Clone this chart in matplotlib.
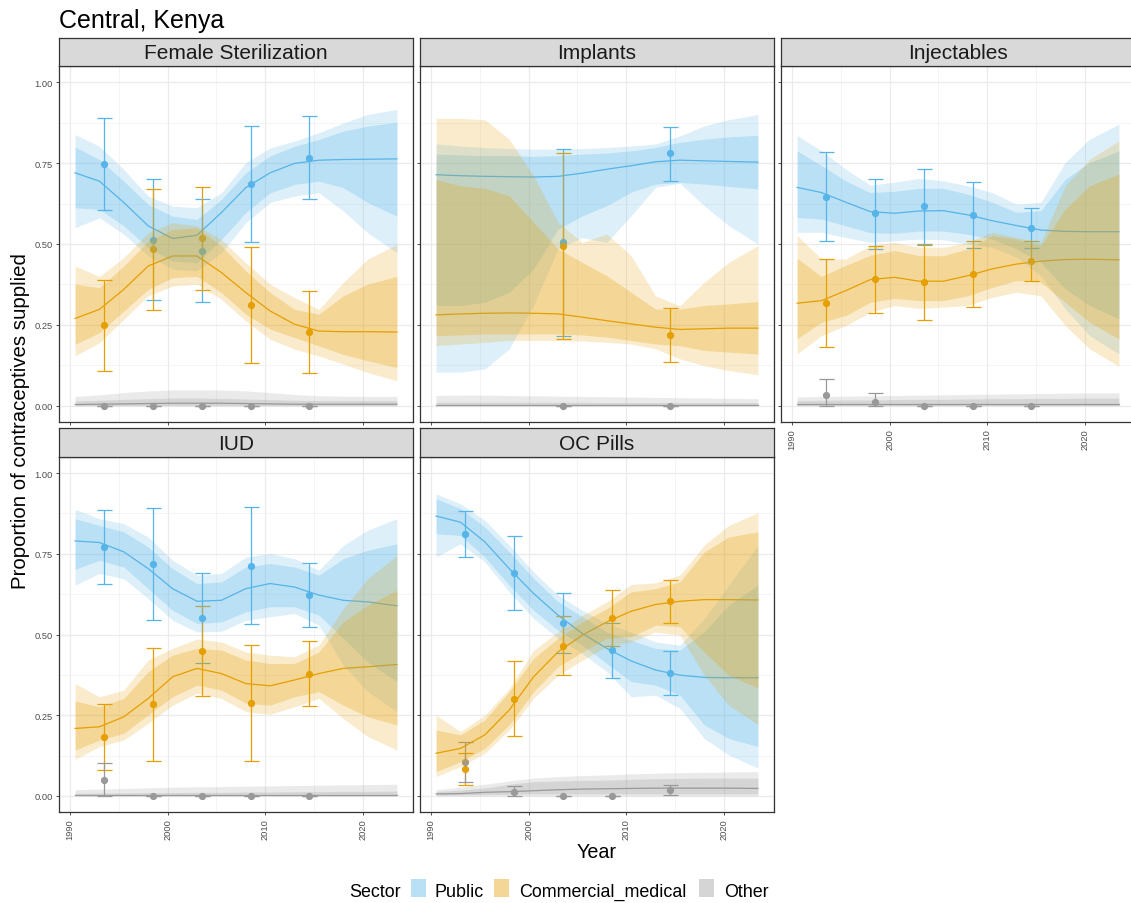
import matplotlib
matplotlib.use("Agg")
import matplotlib.pyplot as plt
from matplotlib.patches import Rectangle
import numpy as np

plt.rcParams['font.family'] = ['Liberation Sans', 'DejaVu Sans']

# ---------------- data ----------------
GRID = [1990.5, 1993, 1995.5, 1998, 2000.5, 2003, 2005.5, 2008, 2010.5, 2013, 2015.5, 2018, 2020.5, 2023.5]
SECTORS = ['Public', 'Commercial_medical', 'Other']
PANELS = ['Female Sterilization', 'Implants', 'Injectables', 'IUD', 'OC Pills']

# Female Sterilization
fs_pub_med = [0.72, 0.694, 0.628, 0.556, 0.517, 0.527, 0.597, 0.674, 0.72, 0.749, 0.759, 0.761, 0.762, 0.763]
fs_pub_lo_in = [0.612, 0.607, 0.556, 0.489, 0.448, 0.442, 0.514, 0.597, 0.658, 0.684, 0.694, 0.674, 0.628, 0.586]
fs_pub_hi_in = [0.80, 0.761, 0.694, 0.622, 0.586, 0.576, 0.638, 0.72, 0.772, 0.802, 0.823, 0.849, 0.864, 0.877]
fs_pub_lo_out = [0.55, 0.581, 0.53, 0.463, 0.422, 0.417, 0.473, 0.566, 0.628, 0.648, 0.658, 0.602, 0.535, 0.473]
fs_pub_hi_out = [0.838, 0.802, 0.73, 0.648, 0.617, 0.612, 0.658, 0.751, 0.797, 0.818, 0.844, 0.874, 0.90, 0.916]
fs_com_med = [0.27, 0.298, 0.36, 0.432, 0.463, 0.463, 0.412, 0.35, 0.293, 0.252, 0.231, 0.229, 0.229, 0.228]
fs_com_lo_in = [0.19, 0.226, 0.293, 0.36, 0.396, 0.40, 0.35, 0.283, 0.237, 0.211, 0.185, 0.159, 0.139, 0.118]
fs_com_hi_in = [0.376, 0.365, 0.432, 0.509, 0.545, 0.55, 0.494, 0.417, 0.35, 0.298, 0.283, 0.34, 0.376, 0.40]
fs_com_lo_out = [0.154, 0.195, 0.267, 0.34, 0.37, 0.376, 0.329, 0.262, 0.206, 0.175, 0.154, 0.129, 0.103, 0.077]
fs_com_hi_out = [0.432, 0.40, 0.458, 0.535, 0.566, 0.556, 0.514, 0.442, 0.376, 0.334, 0.298, 0.381, 0.453, 0.499]
fs_oth_med = [0.004, 0.005, 0.006, 0.007, 0.008, 0.008, 0.008, 0.007, 0.006, 0.005, 0.005, 0.005, 0.005, 0.005]
fs_oth_lo_in = [0.001, 0.001, 0.001, 0.001, 0.001, 0.001, 0.001, 0.001, 0.001, 0.001, 0.001, 0.001, 0.001, 0.001]
fs_oth_hi_in = [0.015, 0.017, 0.02, 0.022, 0.024, 0.024, 0.023, 0.021, 0.019, 0.017, 0.016, 0.016, 0.016, 0.016]
fs_oth_lo_out = [0.0, 0.0, 0.0, 0.0, 0.0, 0.0, 0.0, 0.0, 0.0, 0.0, 0.0, 0.0, 0.0, 0.0]
fs_oth_hi_out = [0.029, 0.034, 0.041, 0.046, 0.049, 0.049, 0.049, 0.046, 0.041, 0.035, 0.031, 0.03, 0.029, 0.029]
fs_years = [1993.5, 1998.5, 2003.5, 2008.5, 2014.5]
fs_pub_pt = [0.748, 0.513, 0.478, 0.685, 0.767]
fs_pub_pt_lo = [0.606, 0.326, 0.32, 0.506, 0.64]
fs_pub_pt_hi = [0.889, 0.70, 0.638, 0.864, 0.894]
fs_com_pt = [0.249, 0.484, 0.517, 0.311, 0.229]
fs_com_pt_lo = [0.108, 0.296, 0.359, 0.131, 0.102]
fs_com_pt_hi = [0.39, 0.67, 0.675, 0.49, 0.356]
fs_oth_pt = [0.0, 0.0, 0.0, 0.0, 0.0]
fs_oth_pt_lo = [0.0, 0.0, 0.0, 0.0, 0.0]
fs_oth_pt_hi = [0.0, 0.0, 0.0, 0.0, 0.0]

# Implants
im_pub_med = [0.714, 0.711, 0.709, 0.708, 0.707, 0.709, 0.719, 0.731, 0.742, 0.754, 0.759, 0.757, 0.755, 0.753]
im_pub_lo_in = [0.31, 0.31, 0.32, 0.351, 0.423, 0.546, 0.587, 0.618, 0.66, 0.685, 0.69, 0.685, 0.678, 0.67]
im_pub_hi_in = [0.778, 0.775, 0.773, 0.773, 0.771, 0.773, 0.778, 0.781, 0.788, 0.798, 0.814, 0.824, 0.831, 0.836]
im_pub_lo_out = [0.104, 0.104, 0.114, 0.176, 0.31, 0.485, 0.52, 0.505, 0.587, 0.675, 0.688, 0.618, 0.557, 0.50]
im_pub_hi_out = [0.809, 0.803, 0.798, 0.795, 0.793, 0.793, 0.795, 0.798, 0.803, 0.809, 0.834, 0.865, 0.884, 0.90]
im_com_med = [0.281, 0.284, 0.286, 0.287, 0.286, 0.284, 0.274, 0.263, 0.253, 0.243, 0.236, 0.238, 0.24, 0.24]
im_com_lo_in = [0.217, 0.219, 0.222, 0.222, 0.222, 0.222, 0.219, 0.212, 0.202, 0.191, 0.186, 0.171, 0.166, 0.16]
im_com_hi_in = [0.699, 0.68, 0.672, 0.649, 0.567, 0.485, 0.443, 0.402, 0.351, 0.299, 0.299, 0.31, 0.315, 0.322]
im_com_lo_out = [0.186, 0.191, 0.196, 0.202, 0.202, 0.202, 0.2, 0.196, 0.191, 0.176, 0.145, 0.124, 0.109, 0.096]
im_com_hi_out = [0.888, 0.888, 0.884, 0.824, 0.711, 0.567, 0.505, 0.531, 0.464, 0.34, 0.309, 0.382, 0.443, 0.495]
im_oth_med = [0.003, 0.003, 0.003, 0.003, 0.003, 0.003, 0.003, 0.003, 0.003, 0.003, 0.003, 0.003, 0.003, 0.003]
im_oth_lo_in = [0.001, 0.001, 0.001, 0.001, 0.001, 0.001, 0.001, 0.001, 0.001, 0.001, 0.001, 0.001, 0.001, 0.001]
im_oth_hi_in = [0.011, 0.011, 0.011, 0.011, 0.011, 0.011, 0.011, 0.01, 0.01, 0.01, 0.01, 0.01, 0.01, 0.01]
im_oth_lo_out = [0.0, 0.0, 0.0, 0.0, 0.0, 0.0, 0.0, 0.0, 0.0, 0.0, 0.0, 0.0, 0.0, 0.0]
im_oth_hi_out = [0.032, 0.033, 0.033, 0.032, 0.031, 0.03, 0.029, 0.028, 0.027, 0.026, 0.025, 0.024, 0.023, 0.022]
im_years = [2003.5, 2014.5]
im_pub_pt = [0.505, 0.78]
im_pub_pt_lo = [0.217, 0.695]
im_pub_pt_hi = [0.793, 0.863]
im_com_pt = [0.495, 0.219]
im_com_pt_lo = [0.207, 0.135]
im_com_pt_hi = [0.781, 0.301]
im_oth_pt = [0.0, 0.0]
im_oth_pt_lo = [0.0, 0.0]
im_oth_pt_hi = [0.0, 0.0]

# Injectables
inj_pub_med = [0.675, 0.659, 0.629, 0.60, 0.595, 0.602, 0.603, 0.59, 0.572, 0.557, 0.543, 0.539, 0.538, 0.538]
inj_pub_lo_in = [0.582, 0.577, 0.556, 0.535, 0.533, 0.54, 0.54, 0.53, 0.515, 0.485, 0.443, 0.361, 0.31, 0.269]
inj_pub_hi_in = [0.788, 0.742, 0.695, 0.659, 0.663, 0.672, 0.672, 0.654, 0.629, 0.598, 0.603, 0.70, 0.752, 0.788]
inj_pub_lo_out = [0.536, 0.536, 0.52, 0.505, 0.51, 0.515, 0.513, 0.50, 0.49, 0.459, 0.402, 0.30, 0.217, 0.16]
inj_pub_hi_out = [0.836, 0.788, 0.731, 0.682, 0.691, 0.703, 0.695, 0.68, 0.659, 0.623, 0.629, 0.752, 0.824, 0.87]
inj_com_med = [0.317, 0.325, 0.356, 0.39, 0.397, 0.385, 0.385, 0.402, 0.423, 0.438, 0.447, 0.452, 0.453, 0.451]
inj_com_lo_in = [0.207, 0.258, 0.279, 0.32, 0.332, 0.325, 0.325, 0.34, 0.366, 0.387, 0.382, 0.32, 0.258, 0.207]
inj_com_hi_in = [0.456, 0.40, 0.434, 0.465, 0.48, 0.464, 0.464, 0.485, 0.526, 0.515, 0.495, 0.608, 0.68, 0.716]
inj_com_lo_out = [0.16, 0.217, 0.248, 0.289, 0.31, 0.301, 0.305, 0.31, 0.335, 0.351, 0.34, 0.248, 0.176, 0.122]
inj_com_hi_out = [0.526, 0.454, 0.454, 0.495, 0.505, 0.49, 0.49, 0.505, 0.536, 0.52, 0.505, 0.68, 0.762, 0.819]
inj_oth_med = [0.006, 0.006, 0.006, 0.006, 0.006, 0.006, 0.006, 0.006, 0.006, 0.006, 0.006, 0.006, 0.006, 0.006]
inj_oth_lo_in = [0.001, 0.001, 0.001, 0.001, 0.001, 0.001, 0.001, 0.001, 0.001, 0.001, 0.001, 0.001, 0.001, 0.001]
inj_oth_hi_in = [0.016, 0.017, 0.018, 0.018, 0.019, 0.02, 0.02, 0.021, 0.022, 0.022, 0.023, 0.023, 0.024, 0.024]
inj_oth_lo_out = [0.0, 0.0, 0.0, 0.0, 0.0, 0.0, 0.0, 0.0, 0.0, 0.0, 0.0, 0.0, 0.0, 0.0]
inj_oth_hi_out = [0.027, 0.029, 0.03, 0.031, 0.032, 0.033, 0.034, 0.035, 0.036, 0.037, 0.038, 0.039, 0.04, 0.04]
inj_years = [1993.5, 1998.5, 2003.5, 2008.5, 2014.5]
inj_pub_pt = [0.646, 0.595, 0.616, 0.591, 0.549]
inj_pub_pt_lo = [0.508, 0.486, 0.501, 0.488, 0.487]
inj_pub_pt_hi = [0.783, 0.702, 0.733, 0.692, 0.611]
inj_com_pt = [0.319, 0.391, 0.382, 0.407, 0.449]
inj_com_pt_lo = [0.183, 0.286, 0.265, 0.305, 0.385]
inj_com_pt_hi = [0.454, 0.495, 0.496, 0.51, 0.51]
inj_oth_pt = [0.034, 0.013, 0.0, 0.0, 0.0]
inj_oth_pt_lo = [0.0, 0.0, 0.0, 0.0, 0.0]
inj_oth_pt_hi = [0.084, 0.041, 0.0, 0.0, 0.0]

# IUD
iud_pub_med = [0.79, 0.785, 0.756, 0.704, 0.642, 0.603, 0.606, 0.642, 0.658, 0.647, 0.622, 0.606, 0.601, 0.589]
iud_pub_lo_in = [0.702, 0.73, 0.709, 0.642, 0.575, 0.534, 0.539, 0.57, 0.586, 0.586, 0.56, 0.488, 0.415, 0.354]
iud_pub_hi_in = [0.859, 0.838, 0.818, 0.771, 0.704, 0.658, 0.663, 0.709, 0.72, 0.709, 0.684, 0.735, 0.761, 0.781]
iud_pub_lo_out = [0.653, 0.689, 0.673, 0.611, 0.544, 0.508, 0.51, 0.544, 0.555, 0.565, 0.529, 0.405, 0.323, 0.261]
iud_pub_hi_out = [0.888, 0.859, 0.843, 0.802, 0.73, 0.684, 0.689, 0.74, 0.751, 0.735, 0.699, 0.776, 0.823, 0.859]
iud_com_med = [0.209, 0.214, 0.245, 0.302, 0.369, 0.395, 0.379, 0.348, 0.341, 0.359, 0.379, 0.395, 0.40, 0.407]
iud_com_lo_in = [0.142, 0.173, 0.194, 0.251, 0.307, 0.343, 0.328, 0.287, 0.281, 0.307, 0.323, 0.281, 0.245, 0.22]
iud_com_hi_in = [0.294, 0.276, 0.302, 0.385, 0.436, 0.457, 0.452, 0.421, 0.41, 0.41, 0.446, 0.539, 0.591, 0.637]
iud_com_lo_out = [0.113, 0.153, 0.173, 0.225, 0.281, 0.318, 0.302, 0.261, 0.253, 0.276, 0.302, 0.24, 0.184, 0.142]
iud_com_hi_out = [0.348, 0.307, 0.328, 0.421, 0.457, 0.486, 0.477, 0.446, 0.436, 0.431, 0.467, 0.58, 0.673, 0.745]
iud_oth_med = [0.003, 0.003, 0.003, 0.003, 0.003, 0.003, 0.003, 0.003, 0.003, 0.003, 0.003, 0.003, 0.003, 0.003]
iud_oth_lo_in = [0.001, 0.001, 0.001, 0.001, 0.001, 0.001, 0.001, 0.001, 0.001, 0.001, 0.001, 0.001, 0.001, 0.001]
iud_oth_hi_in = [0.008, 0.009, 0.009, 0.01, 0.01, 0.011, 0.011, 0.012, 0.012, 0.013, 0.013, 0.014, 0.014, 0.015]
iud_oth_lo_out = [0.0, 0.0, 0.0, 0.0, 0.0, 0.0, 0.0, 0.0, 0.0, 0.0, 0.0, 0.0, 0.0, 0.0]
iud_oth_hi_out = [0.019, 0.021, 0.023, 0.025, 0.027, 0.028, 0.029, 0.03, 0.031, 0.032, 0.033, 0.034, 0.035, 0.036]
iud_years = [1993.5, 1998.5, 2003.5, 2008.5, 2014.5]
iud_pub_pt = [0.771, 0.718, 0.552, 0.713, 0.623]
iud_pub_pt_lo = [0.658, 0.544, 0.412, 0.534, 0.522]
iud_pub_pt_hi = [0.885, 0.891, 0.69, 0.894, 0.722]
iud_com_pt = [0.181, 0.284, 0.449, 0.287, 0.378]
iud_com_pt_lo = [0.079, 0.109, 0.31, 0.107, 0.279]
iud_com_pt_hi = [0.284, 0.457, 0.589, 0.467, 0.479]
iud_oth_pt = [0.049, 0.0, 0.0, 0.0, 0.0]
iud_oth_pt_lo = [0.0, 0.0, 0.0, 0.0, 0.0]
iud_oth_pt_hi = [0.103, 0.0, 0.0, 0.0, 0.0]

# OC Pills
oc_pub_med = [0.867, 0.848, 0.787, 0.704, 0.627, 0.56, 0.503, 0.457, 0.418, 0.39, 0.374, 0.367, 0.366, 0.366]
oc_pub_lo_in = [0.812, 0.807, 0.74, 0.653, 0.575, 0.513, 0.467, 0.41, 0.354, 0.343, 0.312, 0.22, 0.178, 0.153]
oc_pub_hi_in = [0.921, 0.89, 0.833, 0.756, 0.674, 0.602, 0.555, 0.508, 0.482, 0.457, 0.452, 0.508, 0.591, 0.653]
oc_pub_lo_out = [0.74, 0.781, 0.725, 0.632, 0.55, 0.488, 0.441, 0.385, 0.307, 0.312, 0.271, 0.178, 0.127, 0.086]
oc_pub_hi_out = [0.936, 0.905, 0.854, 0.777, 0.694, 0.622, 0.575, 0.534, 0.508, 0.477, 0.467, 0.549, 0.653, 0.776]
oc_com_med = [0.132, 0.147, 0.189, 0.266, 0.369, 0.446, 0.498, 0.539, 0.572, 0.593, 0.603, 0.608, 0.608, 0.607]
oc_com_lo_in = [0.075, 0.106, 0.147, 0.22, 0.323, 0.40, 0.446, 0.488, 0.493, 0.529, 0.524, 0.446, 0.374, 0.335]
oc_com_hi_in = [0.204, 0.189, 0.235, 0.323, 0.426, 0.488, 0.539, 0.58, 0.632, 0.642, 0.663, 0.756, 0.802, 0.818]
oc_com_lo_out = [0.06, 0.091, 0.132, 0.204, 0.302, 0.374, 0.42, 0.463, 0.477, 0.508, 0.498, 0.374, 0.281, 0.22]
oc_com_hi_out = [0.25, 0.199, 0.25, 0.332, 0.451, 0.508, 0.559, 0.601, 0.655, 0.66, 0.684, 0.777, 0.838, 0.877]
oc_oth_med = [0.006, 0.007, 0.011, 0.013, 0.016, 0.019, 0.021, 0.022, 0.023, 0.024, 0.024, 0.024, 0.024, 0.023]
oc_oth_lo_in = [0.002, 0.003, 0.004, 0.005, 0.006, 0.006, 0.006, 0.006, 0.006, 0.006, 0.006, 0.006, 0.006, 0.006]
oc_oth_hi_in = [0.013, 0.018, 0.024, 0.036, 0.044, 0.046, 0.048, 0.049, 0.051, 0.053, 0.054, 0.055, 0.055, 0.055]
oc_oth_lo_out = [0.0, 0.0, 0.0, 0.0, 0.0, 0.0, 0.0, 0.0, 0.0, 0.0, 0.0, 0.0, 0.0, 0.0]
oc_oth_hi_out = [0.019, 0.027, 0.036, 0.046, 0.055, 0.06, 0.063, 0.065, 0.068, 0.07, 0.072, 0.073, 0.074, 0.075]
oc_years = [1993.5, 1998.5, 2003.5, 2008.5, 2014.5]
oc_pub_pt = [0.812, 0.691, 0.535, 0.451, 0.38]
oc_pub_pt_lo = [0.741, 0.575, 0.443, 0.364, 0.313]
oc_pub_pt_hi = [0.884, 0.805, 0.628, 0.537, 0.448]
oc_com_pt = [0.084, 0.301, 0.465, 0.551, 0.603]
oc_com_pt_lo = [0.034, 0.185, 0.373, 0.464, 0.536]
oc_com_pt_hi = [0.134, 0.418, 0.557, 0.638, 0.669]
oc_oth_pt = [0.106, 0.011, 0.0, 0.0, 0.019]
oc_oth_pt_lo = [0.044, 0.0, 0.0, 0.0, 0.002]
oc_oth_pt_hi = [0.168, 0.03, 0.0, 0.0, 0.034]

X_TICKS = [1990, 2000, 2010, 2020]
Y_TICKS = [0.0, 0.25, 0.50, 0.75, 1.00]
Y_TICK_LABELS = ['0.00', '0.25', '0.50', '0.75', '1.00']

COLORS = {'Public': '#56B4E9', 'Commercial_medical': '#E69F00', 'Other': '#999999'}

g = globals()
PREFIX = {'Female Sterilization': 'fs', 'Implants': 'im', 'Injectables': 'inj', 'IUD': 'iud', 'OC Pills': 'oc'}
SKEY = {'Public': 'pub', 'Commercial_medical': 'com', 'Other': 'oth'}

# ---------------- layout ----------------
W, H = 1131, 904
fig = plt.figure(figsize=(W / 100, H / 100), dpi=100)


def rect(l, t, r, b):
    return [l / W, 1 - b / H, (r - l) / W, (b - t) / H]


COL_L = [59, 420, 781]
PW = 354
ROWS = [(39, 67, 423), (429, 458, 813)]  # strip top, panel top, panel bottom
POS = {'Female Sterilization': (0, 0), 'Implants': (0, 1), 'Injectables': (0, 2),
       'IUD': (1, 0), 'OC Pills': (1, 1)}
XLAB_PANELS = {'Injectables', 'IUD', 'OC Pills'}

for name in PANELS:
    r, c = POS[name]
    st, pt, pb = ROWS[r]
    l = COL_L[c]
    ax = fig.add_axes(rect(l, pt, l + PW, pb))
    ax.set_xlim(1988.85, 2025.15)
    ax.set_ylim(-0.05, 1.05)
    ax.set_xticks(X_TICKS)
    ax.set_xticks([1995, 2005, 2015, 2025], minor=True)
    ax.set_yticks(Y_TICKS)
    ax.set_yticks([0.125, 0.375, 0.625, 0.875], minor=True)
    ax.grid(which='major', color='#EBEBEB', lw=0.9)
    ax.grid(which='minor', color='#F2F2F2', lw=0.6)
    ax.set_axisbelow(True)
    for s in ax.spines.values():
        s.set_color('#333333')
        s.set_linewidth(0.9)
    ax.tick_params(which='minor', length=0)
    ax.tick_params(which='major', length=2.5, width=0.6, color='#333333',
                   labelsize=6.7, labelcolor='#4D4D4D', pad=2)
    if c == 0:
        ax.set_yticklabels(Y_TICK_LABELS)
    else:
        ax.tick_params(axis='y', labelleft=False)
    if name in XLAB_PANELS:
        ax.set_xticklabels([str(v) for v in X_TICKS], rotation=90)
    else:
        ax.tick_params(axis='x', labelbottom=False)

    p = PREFIX[name]
    years = g[p + '_years']
    for sec in SECTORS:
        k = p + '_' + SKEY[sec]
        col = COLORS[sec]
        ax.plot(GRID, g[k + '_med'], color=col, lw=0.9, zorder=2)
        v = np.array(g[k + '_pt'])
        lo = np.array(g[k + '_pt_lo'])
        hi = np.array(g[k + '_pt_hi'])
        ax.errorbar(years, v, yerr=[v - lo, hi - v], fmt='o', color=col, ms=4.2,
                    capsize=5.4, elinewidth=0.9, capthick=0.9, zorder=3)
    for sec in SECTORS:
        k = p + '_' + SKEY[sec]
        col = COLORS[sec]
        ax.fill_between(GRID, g[k + '_lo_out'], g[k + '_hi_out'], color=col,
                        alpha=0.2, lw=0, zorder=4)
        ax.fill_between(GRID, g[k + '_lo_in'], g[k + '_hi_in'], color=col,
                        alpha=0.26, lw=0, zorder=4)

    sax = fig.add_axes(rect(l, st, l + PW, pt))
    sax.set_facecolor('#D9D9D9')
    sax.set_xticks([])
    sax.set_yticks([])
    for s in sax.spines.values():
        s.set_color('#333333')
        s.set_linewidth(0.9)
    sax.text(0.5, 0.47, name, transform=sax.transAxes, ha='center', va='center',
             fontsize=15, color='#1A1A1A')

# titles
fig.text(59 / W, 1 - 28 / H, 'Central, Kenya', fontsize=18, ha='left', va='baseline')
fig.text(21 / W, 1 - 421 / H, 'Proportion of contraceptives supplied', fontsize=14.7,
         rotation=90, ha='center', va='center')
fig.text(597 / W, 1 - 858 / H, 'Year', fontsize=14.2, ha='center', va='baseline')

# legend
fig.text(349 / W, 1 - 897 / H, 'Sector', fontsize=12.9, ha='left', va='baseline')
LEG = [('Public', 411, 435), ('Commercial_medical', 494, 519), ('Other', 699, 724)]
for sec, kx, tx in LEG:
    fig.patches.append(Rectangle((kx / W, 1 - 898 / H), 14.5 / W, 18 / H,
                                 transform=fig.transFigure, facecolor=COLORS[sec],
                                 alpha=0.41, lw=0))
    fig.text(tx / W, 1 - 897 / H, sec, fontsize=12.9, ha='left', va='baseline')

fig.savefig('out.png', dpi=100)
